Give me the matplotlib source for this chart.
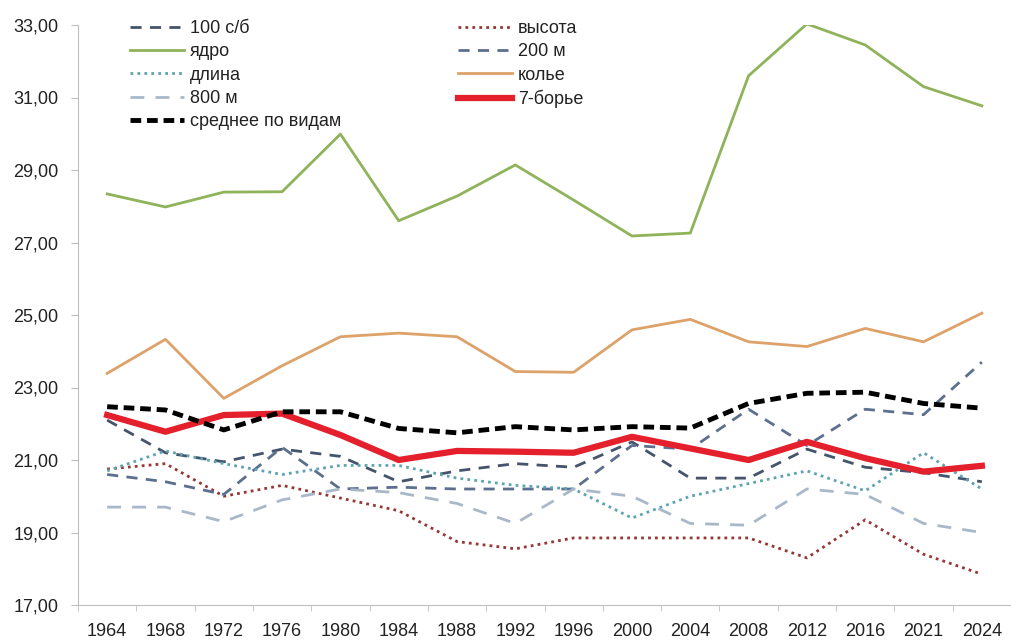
import matplotlib
matplotlib.use("Agg")
import matplotlib.pyplot as plt
from matplotlib.ticker import FuncFormatter, FixedLocator

plt.rcParams["font.family"] = ["Liberation Sans", "DejaVu Sans"]

years = ["1964", "1968", "1972", "1976", "1980", "1984", "1988", "1992",
         "1996", "2000", "2004", "2008", "2012", "2016", "2021", "2024"]

hurdles_100 = [22.1, 21.2, 20.95, 21.3, 21.1, 20.4, 20.7, 20.9,
               20.8, 21.5, 20.5, 20.5, 21.3, 20.8, 20.65, 20.4]
high_jump = [20.75, 20.9, 20.0, 20.3, 19.95, 19.6, 18.75, 18.55,
             18.85, 18.85, 18.85, 18.85, 18.3, 19.35, 18.4, 17.85]
shot_put = [28.34, 27.98, 28.39, 28.4, 29.99, 27.6, 28.28, 29.14,
            28.17, 27.18, 27.26, 31.6, 33.03, 32.45, 31.3, 30.77]
run_200 = [20.6, 20.4, 20.05, 21.35, 20.2, 20.25, 20.2, 20.2,
           20.2, 21.4, 21.3, 22.4, 21.4, 22.4, 22.25, 23.7]
long_jump = [20.7, 21.25, 20.9, 20.6, 20.85, 20.85, 20.5, 20.3,
             20.2, 19.4, 20.0, 20.35, 20.7, 20.15, 21.2, 20.2]
javelin = [23.39, 24.33, 22.7, 23.6, 24.4, 24.5, 24.4, 23.44,
           23.42, 24.59, 24.88, 24.26, 24.13, 24.63, 24.26, 25.05]
run_800 = [19.7, 19.7, 19.3, 19.9, 20.2, 20.1, 19.8, 19.25,
           20.2, 20.0, 19.25, 19.2, 20.2, 20.05, 19.25, 19.0]
heptathlon = [22.24, 21.78, 22.24, 22.28, 21.69, 21.0, 21.25, 21.23,
              21.2, 21.64, 21.32, 21.0, 21.5, 21.05, 20.68, 20.84]
mean_events = [22.47, 22.38, 21.83, 22.33, 22.33, 21.87, 21.75, 21.92,
               21.83, 21.92, 21.88, 22.56, 22.84, 22.87, 22.56, 22.43]


def main() -> None:
    fig = plt.figure(figsize=(10.11, 6.42), dpi=100)
    ax = fig.add_axes([78 / 1011, 37 / 642, 1 - 78 / 1011, (605 - 25) / 642])
    x = range(len(years))

    # series drawn in Excel order (mean on top)
    h100, = ax.plot(x, hurdles_100, color="#44546A", lw=2, dashes=(4, 3), label="100 с/б")
    hhj, = ax.plot(x, high_jump, color="#953735", lw=2, dashes=(1, 1.5), label="высота")
    hsp, = ax.plot(x, shot_put, color="#8FB35A", lw=2, label="ядро")
    h200, = ax.plot(x, run_200, color="#5C6F8E", lw=2, dashes=(4, 3), label="200 м")
    hlj, = ax.plot(x, long_jump, color="#5FA3B3", lw=2, dashes=(1, 1.5), label="длина")
    hjt, = ax.plot(x, javelin, color="#DDA26A", lw=2, label="колье")
    h800, = ax.plot(x, run_800, color="#A9B8C8", lw=2, dashes=(5, 4), label="800 м")
    hhep, = ax.plot(x, heptathlon, color="#E3202C", lw=4.5, label="7-борье")
    hmean, = ax.plot(x, mean_events, color="black", lw=3.5, dashes=(2.2, 1.2),
                     label="среднее по видам")

    ax.set_xlim(-0.5, len(years) - 0.5)
    ax.set_ylim(17, 33)
    ax.set_yticks(range(17, 34, 2))
    ax.yaxis.set_major_formatter(FuncFormatter(lambda v, _: f"{v:.2f}".replace(".", ",")))
    ax.set_xticks(list(x))
    ax.set_xticklabels(years)
    ax.xaxis.set_minor_locator(FixedLocator([i - 0.5 for i in range(len(years) + 1)]))
    ax.tick_params(axis="x", which="major", length=0, pad=13, labelsize=13, labelcolor="#222222")
    ax.tick_params(axis="x", which="minor", length=4, color="#BFBFBF")
    ax.tick_params(axis="y", length=5, color="#BFBFBF", labelsize=13, labelcolor="#222222", pad=9)

    for side in ("top", "right"):
        ax.spines[side].set_visible(False)
    for side in ("left", "bottom"):
        ax.spines[side].set_color("#BFBFBF")

    handles = [h100, hsp, hlj, h800, hmean, hhj, h200, hjt, hhep]
    fig.legend(handles=handles, labels=[h.get_label() for h in handles],
               ncol=2, loc="upper left", bbox_to_anchor=(130 / 1011, 1 - 20 / 642),
               frameon=False, fontsize=13, handlelength=3.0, handletextpad=0.3,
               columnspacing=6.5, borderpad=0, borderaxespad=0, labelspacing=0.35,
               labelcolor="#222222")

    fig.savefig("out.png")
    plt.close(fig)


if __name__ == "__main__":
    main()
